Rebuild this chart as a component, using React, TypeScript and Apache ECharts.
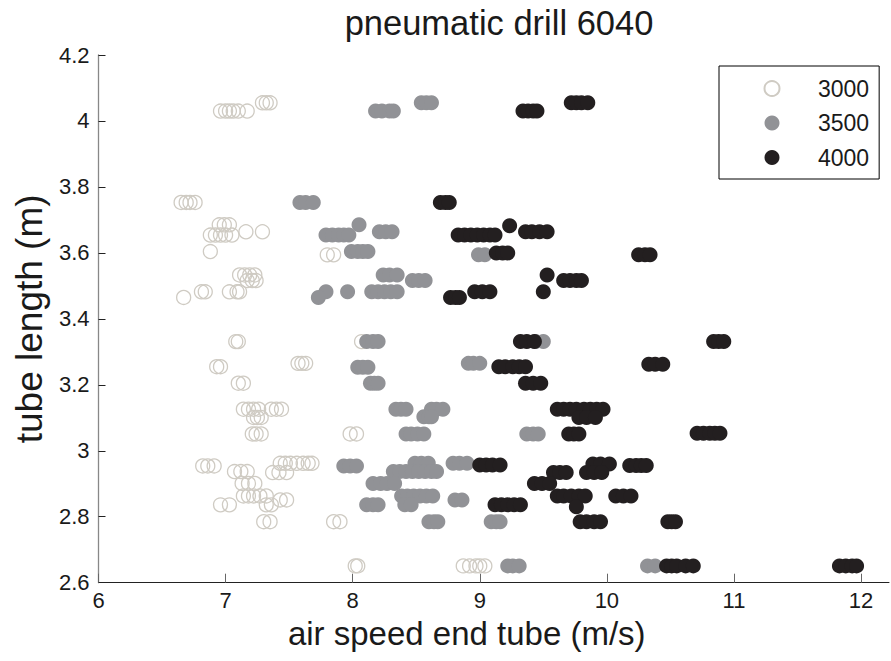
import React, { useEffect, useRef } from "react";
import * as echarts from "echarts";

const titleText = "pneumatic drill 6040";
const xName = "air speed end tube (m/s)";
const yName = "tube length (m)";
const seriesNames = ["3000", "3500", "4000"];

const s3000: [number, number][] = [
  [6.96, 4.03], [7.0, 4.03], [7.03, 4.03], [7.06, 4.03], [7.1, 4.03], [7.17, 4.03],
  [7.29, 4.055], [7.32, 4.055], [7.35, 4.055],
  [6.65, 3.753], [6.69, 3.753], [6.72, 3.753], [6.76, 3.753],
  [6.95, 3.685], [6.99, 3.685], [7.03, 3.685],
  [6.88, 3.654], [6.92, 3.654], [6.96, 3.654], [7.0, 3.654], [7.05, 3.654],
  [7.16, 3.664], [7.29, 3.664],
  [6.88, 3.604],
  [7.8, 3.594], [7.85, 3.594],
  [7.11, 3.533], [7.15, 3.533], [7.19, 3.533], [7.23, 3.533],
  [7.17, 3.516], [7.21, 3.516], [7.24, 3.516],
  [6.81, 3.482], [6.84, 3.482], [7.03, 3.482], [7.09, 3.482], [7.11, 3.482],
  [6.67, 3.465],
  [7.08, 3.331], [7.1, 3.331], [8.07, 3.331],
  [6.93, 3.255], [6.96, 3.255],
  [7.57, 3.265], [7.6, 3.265], [7.63, 3.265],
  [7.1, 3.205], [7.14, 3.205],
  [7.14, 3.126], [7.18, 3.126], [7.22, 3.126], [7.26, 3.126], [7.36, 3.126], [7.4, 3.126], [7.44, 3.126],
  [7.22, 3.101], [7.25, 3.101], [7.28, 3.101],
  [7.21, 3.051], [7.24, 3.051], [7.28, 3.051], [7.98, 3.051], [8.03, 3.051],
  [6.82, 2.954], [6.86, 2.954], [6.91, 2.954],
  [7.43, 2.962], [7.47, 2.962], [7.51, 2.962], [7.56, 2.962], [7.61, 2.962], [7.65, 2.962], [7.68, 2.962],
  [7.07, 2.937], [7.12, 2.937], [7.17, 2.937], [7.37, 2.934], [7.42, 2.934], [7.48, 2.934],
  [7.13, 2.901], [7.18, 2.901], [7.23, 2.901],
  [7.14, 2.863], [7.18, 2.863], [7.22, 2.863], [7.27, 2.863], [7.32, 2.863],
  [7.43, 2.851], [7.48, 2.851],
  [6.96, 2.836], [7.03, 2.836], [7.32, 2.836], [7.36, 2.836],
  [7.3, 2.785], [7.35, 2.785], [7.85, 2.785], [7.9, 2.785],
  [8.02, 2.651], [8.04, 2.651], [8.87, 2.651], [8.92, 2.651], [8.97, 2.651], [9.0, 2.651], [9.04, 2.651],
];

const s3500: [number, number][] = [
  [8.18, 4.03], [8.23, 4.03], [8.29, 4.03], [8.32, 4.03],
  [8.54, 4.055], [8.58, 4.055], [8.62, 4.055],
  [7.585, 3.753], [7.63, 3.753], [7.69, 3.753],
  [8.05, 3.685],
  [7.79, 3.654], [7.84, 3.654], [7.89, 3.654], [7.93, 3.654], [7.97, 3.654],
  [8.21, 3.664], [8.26, 3.664], [8.31, 3.664],
  [7.99, 3.604], [8.04, 3.604], [8.08, 3.604], [8.12, 3.604],
  [8.99, 3.594], [9.04, 3.594],
  [8.24, 3.533], [8.29, 3.533], [8.35, 3.533],
  [8.47, 3.516], [8.52, 3.516], [8.57, 3.516],
  [7.79, 3.482], [7.96, 3.482], [8.15, 3.482], [8.2, 3.482], [8.25, 3.482], [8.3, 3.482], [8.35, 3.482],
  [7.73, 3.465],
  [8.11, 3.331], [8.16, 3.331], [8.2, 3.331], [9.44, 3.331], [9.5, 3.331],
  [8.91, 3.265], [8.95, 3.265], [9.0, 3.265],
  [8.04, 3.253], [8.08, 3.253], [8.12, 3.253],
  [8.14, 3.205], [8.17, 3.205], [8.2, 3.205],
  [8.34, 3.126], [8.38, 3.126], [8.42, 3.126], [8.62, 3.126], [8.66, 3.126], [8.71, 3.126],
  [8.56, 3.103], [8.6, 3.103], [8.62, 3.103],
  [8.42, 3.051], [8.46, 3.051], [8.51, 3.051], [8.56, 3.051], [9.37, 3.051], [9.42, 3.051], [9.46, 3.051],
  [7.93, 2.954], [7.98, 2.954], [8.03, 2.954],
  [8.49, 2.962], [8.54, 2.962], [8.595, 2.962], [8.79, 2.962], [8.84, 2.962], [8.9, 2.962],
  [8.32, 2.937], [8.37, 2.937], [8.42, 2.937], [8.47, 2.937], [8.52, 2.937], [8.57, 2.937], [8.62, 2.937], [8.66, 2.937],
  [8.16, 2.901], [8.22, 2.901], [8.27, 2.901], [8.33, 2.901],
  [8.385, 2.863], [8.43, 2.863], [8.48, 2.863], [8.53, 2.863], [8.58, 2.863], [8.63, 2.863],
  [8.805, 2.851], [8.86, 2.851],
  [8.11, 2.836], [8.16, 2.836], [8.2, 2.836], [8.41, 2.836], [8.46, 2.836],
  [8.6, 2.785], [8.64, 2.785], [8.67, 2.785], [9.09, 2.785], [9.13, 2.785], [9.16, 2.785],
  [9.22, 2.651], [9.26, 2.651], [9.31, 2.651], [10.32, 2.651], [10.38, 2.651],
];

const s4000: [number, number][] = [
  [9.34, 4.03], [9.38, 4.03], [9.42, 4.03], [9.45, 4.03],
  [9.72, 4.055], [9.76, 4.055], [9.8, 4.055], [9.85, 4.055],
  [8.69, 3.753], [8.73, 3.753], [8.76, 3.753],
  [9.235, 3.682],
  [8.83, 3.654], [8.88, 3.654], [8.93, 3.654], [8.98, 3.654], [9.03, 3.654], [9.08, 3.654], [9.12, 3.654],
  [9.36, 3.664], [9.41, 3.664], [9.47, 3.664], [9.53, 3.664],
  [9.13, 3.6], [9.18, 3.6], [9.22, 3.6],
  [10.25, 3.594], [10.3, 3.594], [10.34, 3.594],
  [9.53, 3.533],
  [9.66, 3.516], [9.71, 3.516], [9.76, 3.516], [9.8, 3.516],
  [8.96, 3.482], [9.02, 3.482], [9.08, 3.482], [9.5, 3.482],
  [8.77, 3.465], [8.81, 3.465], [8.84, 3.465],
  [9.32, 3.331], [9.37, 3.331], [9.43, 3.331], [10.84, 3.331], [10.88, 3.331], [10.92, 3.331],
  [9.15, 3.255], [9.2, 3.255], [9.26, 3.255], [9.31, 3.255], [9.36, 3.255],
  [10.33, 3.262], [10.38, 3.262], [10.44, 3.262],
  [9.36, 3.205], [9.42, 3.205], [9.48, 3.205],
  [9.61, 3.126], [9.66, 3.126], [9.71, 3.126], [9.76, 3.126], [9.82, 3.126], [9.87, 3.126], [9.92, 3.126], [9.97, 3.126],
  [9.78, 3.101], [9.84, 3.101], [9.91, 3.101],
  [9.7, 3.051], [9.74, 3.051], [9.78, 3.051], [10.71, 3.053], [10.76, 3.053], [10.81, 3.053], [10.85, 3.053], [10.89, 3.053],
  [9.0, 2.957], [9.05, 2.957], [9.1, 2.957], [9.16, 2.957],
  [9.89, 2.96], [9.95, 2.96], [10.02, 2.96], [10.18, 2.955], [10.23, 2.955], [10.27, 2.955], [10.31, 2.955],
  [9.58, 2.934], [9.63, 2.934], [9.68, 2.934], [9.84, 2.934], [9.9, 2.934], [9.96, 2.934],
  [9.43, 2.901], [9.49, 2.901], [9.55, 2.901],
  [9.61, 2.863], [9.66, 2.863], [9.72, 2.863], [9.78, 2.863], [9.83, 2.863], [10.07, 2.863], [10.13, 2.863], [10.19, 2.863],
  [9.12, 2.836], [9.17, 2.836], [9.22, 2.836], [9.27, 2.836], [9.32, 2.836],
  [9.76, 2.83],
  [9.79, 2.785], [9.84, 2.785], [9.9, 2.785], [9.95, 2.785], [10.48, 2.785], [10.51, 2.785], [10.54, 2.785],
  [10.47, 2.651], [10.51, 2.651], [10.55, 2.651], [10.62, 2.651], [10.68, 2.651],
  [11.83, 2.651], [11.88, 2.651], [11.93, 2.651], [11.965, 2.651],
];

const FONT = "'Liberation Sans', Arial, Helvetica, sans-serif";

export default function App() {
  const ref = useRef<HTMLDivElement>(null);
  useEffect(() => {
    if (!ref.current) return;
    const chart = echarts.init(ref.current, undefined, { renderer: "svg" });
    chart.setOption({
      animation: false,
      backgroundColor: "#ffffff",
      textStyle: { fontFamily: FONT },
      title: {
        text: titleText,
        left: 494,
        textAlign: "center",
        top: 0,
        textStyle: { fontFamily: FONT, fontSize: 34.5, fontWeight: "normal", color: "#1a1a1a" },
      },
      grid: { left: 98.5, right: 2, top: 55, bottom: 78.3, containLabel: false },
      legend: {
        data: seriesNames,
        orient: "vertical",
        left: 719,
        top: 66,
        padding: [11, 10, 10, 44.5],
        itemWidth: 82,
        itemHeight: 15,
        itemGap: 11.5,
        icon: "circle",
        borderColor: "#000",
        borderWidth: 1,
        backgroundColor: "#fff",
        textStyle: { fontFamily: FONT, fontSize: 23, lineHeight: 22, color: "#1a1a1a" },
        selectedMode: false,
      },
      xAxis: {
        type: "value",
        min: 6,
        max: 12.22,
        interval: 1,
        name: xName,
        nameLocation: "middle",
        nameGap: 33,
        nameTextStyle: { fontFamily: FONT, fontSize: 33, color: "#1a1a1a", padding: [0, 54, 0, 0] },
        axisLine: { show: true, lineStyle: { color: "#222", width: 1 } },
        axisTick: { show: true, inside: true, length: 9, lineStyle: { color: "#666", width: 1 } },
        axisLabel: { fontFamily: FONT, fontSize: 22, color: "#1a1a1a", margin: 7, showMaxLabel: false },
        splitLine: { show: false },
      },
      yAxis: {
        type: "value",
        min: 2.6,
        max: 4.2,
        interval: 0.2,
        name: yName,
        nameLocation: "middle",
        nameGap: 46,
        nameTextStyle: { fontFamily: FONT, fontSize: 37, color: "#1a1a1a" },
        axisLine: { show: true, lineStyle: { color: "#888", width: 1.3 } },
        axisTick: { show: true, inside: true, length: 7, lineStyle: { color: "#222", width: 1 } },
        axisLabel: { fontFamily: FONT, fontSize: 22, color: "#1a1a1a", margin: 9 },
        splitLine: { show: false },
      },
      series: [
        {
          name: seriesNames[0],
          type: "scatter",
          data: s3000,
          symbol: "circle",
          symbolSize: 14,
          itemStyle: { color: "rgba(255,255,255,0)", borderColor: "#cfcbc3", borderWidth: 1.3, opacity: 1 },
          emphasis: { disabled: true },
        },
        {
          name: seriesNames[1],
          type: "scatter",
          data: s3500,
          symbol: "circle",
          symbolSize: 15,
          itemStyle: { color: "#919296", opacity: 1 },
          emphasis: { disabled: true },
        },
        {
          name: seriesNames[2],
          type: "scatter",
          data: s4000,
          symbol: "circle",
          symbolSize: 15,
          itemStyle: { color: "#231f20", opacity: 1 },
          emphasis: { disabled: true },
        },
      ],
    });
    return () => chart.dispose();
  }, []);
  return (
    <div
      ref={ref}
      style={{ position: "fixed", left: 0, top: 0, width: 891, height: 661, background: "#fff" }}
    />
  );
}
